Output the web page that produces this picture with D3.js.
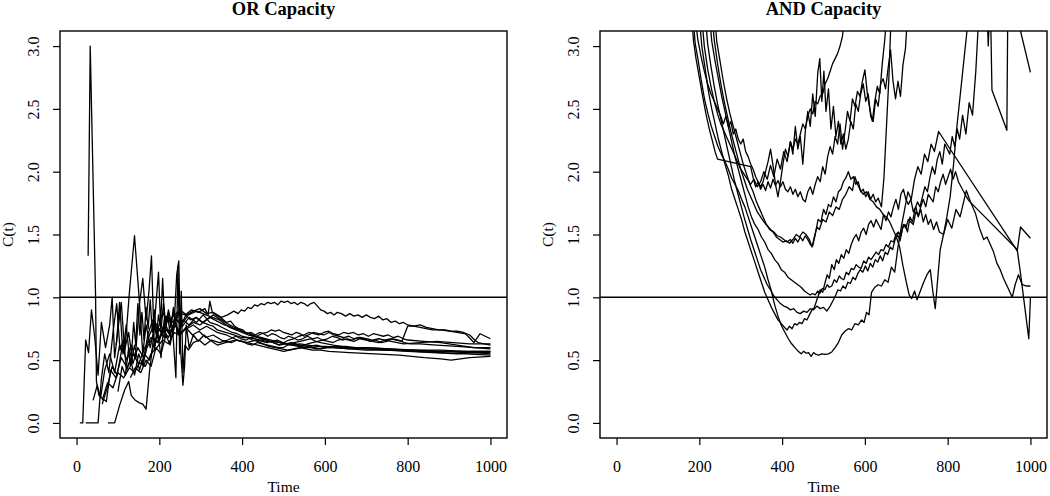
<!DOCTYPE html>
<html>
<head>
<meta charset="utf-8">
<script src="https://cdn.jsdelivr.net/npm/d3@7"></script>
<style>
  body { margin: 0; background: #fff; }
  svg { display: block; font-family: "Liberation Serif", "Times New Roman", serif; }
</style>
</head>
<body>
<svg id="capacityVis" width="1050" height="496"></svg>
<script>
const timeTicks = [0, 200, 400, 600, 800, 1000];
const capacityTicks = [0, 0.5, 1, 1.5, 2, 2.5, 3];
const timeRange = [0, 1000];
const capacityRange = [0, 3];
const panelTitles = ["OR Capacity", "AND Capacity"];
const referenceLevel = 1;

// OR capacity curves, [time, C(t)]
const or1 = [[28,1.33],[33,3.0],[46,1.0],[48,0.33],[54,0.22],[64,0.19],[72,0.17],[82,0.42],[95,0.36],[108,0.52],[122,0.44],[136,0.55],[150,0.47],[165,0.60],[180,0.68],[195,0.64],[210,0.76],[225,0.72],[240,0.82],[255,0.79],[270,0.86],[290,0.89],[305,0.87],[320,0.85],[345,0.82],[358,0.79],[370,0.76],[385,0.74],[400,0.72],[415,0.70],[430,0.69],[445,0.67],[460,0.66],[475,0.64],[490,0.62],[505,0.63],[520,0.64],[540,0.62],[560,0.61],[580,0.62],[600,0.60],[625,0.61],[650,0.61],[675,0.60],[700,0.59],[760,0.58],[820,0.58],[880,0.57],[940,0.56],[1000,0.56]];
const or2 = [[8,0],[15,0],[22,0.66],[29,0.56],[36,0.90],[44,0.68],[52,0.38],[60,0.80],[70,0.60],[80,0.78],[86,1.0],[92,0.52],[100,0.74],[108,0.96],[116,0.58],[126,0.72],[136,0.47],[148,0.60],[162,0.52],[176,0.70],[190,0.80],[204,0.72],[218,0.85],[232,0.80],[246,0.88],[262,0.86],[278,0.90],[294,0.88],[310,0.91],[318,0.86],[322,0.97],[328,0.88],[342,0.85],[352,0.83],[362,0.80],[372,0.81],[382,0.77],[392,0.75],[402,0.74],[412,0.71],[422,0.72],[432,0.70],[442,0.72],[452,0.71],[462,0.69],[472,0.71],[482,0.70],[492,0.68],[502,0.67],[512,0.69],[522,0.68],[534,0.66],[546,0.67],[558,0.69],[570,0.67],[582,0.68],[594,0.66],[606,0.67],[618,0.69],[630,0.68],[642,0.66],[654,0.67],[666,0.66],[680,0.68],[694,0.67],[708,0.65],[722,0.66],[736,0.64],[750,0.65],[764,0.67],[778,0.66],[792,0.64],[806,0.63],[830,0.63],[870,0.62],[920,0.61],[960,0.60],[1000,0.60]];
const or3 = [[22,0],[52,0],[60,0.35],[68,0.55],[78,0.40],[88,0.72],[97,0.95],[105,0.58],[113,0.66],[121,0.42],[130,0.50],[140,0.38],[150,0.55],[160,0.46],[170,0.60],[184,0.68],[198,0.64],[212,0.76],[226,0.70],[240,0.83],[256,0.77],[272,0.84],[290,0.80],[306,0.86],[322,0.80],[340,0.78],[352,0.76],[364,0.74],[376,0.72],[388,0.71],[400,0.69],[412,0.68],[425,0.66],[437,0.65],[450,0.63],[462,0.62],[475,0.61],[488,0.60],[500,0.60],[510,0.62],[520,0.63],[532,0.62],[545,0.61],[558,0.63],[570,0.64],[582,0.65],[595,0.66],[608,0.65],[620,0.64],[632,0.66],[645,0.67],[658,0.66],[670,0.65],[685,0.67],[700,0.66],[715,0.65],[730,0.64],[745,0.66],[760,0.65],[775,0.64],[790,0.63],[830,0.64],[870,0.65],[910,0.64],[950,0.63],[1000,0.63]];
const or4 = [[40,0.18],[50,0.30],[58,0.20],[68,0.42],[80,0.55],[92,0.40],[104,0.62],[116,0.55],[128,1.05],[140,1.49],[150,1.05],[160,0.55],[168,0.78],[178,0.60],[188,0.76],[198,0.66],[210,0.74],[222,0.68],[236,0.80],[250,0.72],[266,0.75],[282,0.78],[298,0.74],[314,0.77],[330,0.74],[340,0.72],[350,0.71],[362,0.70],[375,0.68],[388,0.66],[400,0.65],[412,0.64],[425,0.63],[438,0.62],[450,0.61],[462,0.60],[475,0.59],[488,0.58],[500,0.57],[515,0.58],[530,0.59],[545,0.60],[560,0.61],[575,0.60],[590,0.59],[605,0.60],[620,0.60],[660,0.59],[700,0.58],[750,0.58],[800,0.57],[860,0.56],[920,0.55],[960,0.56],[1000,0.55]];
const or5 = [[62,0.15],[74,0.28],[86,0.45],[98,0.38],[110,0.60],[122,0.50],[132,0.62],[142,0.52],[152,0.95],[160,1.15],[168,0.82],[175,1.05],[181,1.33],[188,0.58],[196,0.74],[204,0.52],[212,0.82],[222,0.72],[234,0.88],[246,0.70],[258,0.82],[272,0.78],[288,0.84],[304,0.80],[322,0.84],[345,0.80],[357,0.78],[369,0.77],[381,0.75],[393,0.74],[405,0.72],[417,0.71],[429,0.69],[441,0.68],[453,0.67],[465,0.65],[477,0.64],[489,0.62],[501,0.64],[513,0.66],[525,0.67],[537,0.69],[549,0.70],[561,0.72],[573,0.71],[585,0.70],[597,0.72],[609,0.73],[621,0.71],[633,0.70],[645,0.72],[657,0.71],[669,0.72],[681,0.70],[693,0.71],[705,0.69],[717,0.71],[729,0.70],[741,0.69],[753,0.70],[765,0.68],[777,0.69],[790,0.67],[800,0.66],[840,0.65],[880,0.64],[920,0.62],[960,0.60],[1000,0.59]];
const or6 = [[76,0],[92,0],[104,0.14],[116,0.26],[126,0.33],[132,0.22],[142,0.18],[152,0.16],[160,0.15],[168,0.11],[176,0.40],[184,0.62],[192,0.95],[198,1.20],[203,0.78],[208,1.15],[214,0.70],[220,0.86],[228,0.66],[238,0.78],[250,0.70],[264,0.76],[280,0.70],[296,0.73],[312,0.68],[330,0.70],[350,0.66],[362,0.65],[375,0.64],[388,0.66],[400,0.65],[412,0.63],[425,0.62],[437,0.64],[450,0.63],[465,0.61],[480,0.60],[495,0.59],[510,0.58],[525,0.59],[540,0.60],[555,0.59],[570,0.58],[590,0.58],[610,0.57],[660,0.56],[720,0.55],[780,0.54],[840,0.52],[880,0.51],[905,0.50],[950,0.52],[1000,0.53]];
const or7 = [[130,0.36],[142,0.44],[155,0.40],[168,0.50],[180,0.45],[192,0.60],[204,0.55],[216,0.70],[226,0.62],[236,0.80],[242,1.18],[247,1.29],[251,0.60],[257,0.30],[261,0.45],[265,0.78],[272,0.60],[282,0.70],[294,0.65],[308,0.70],[322,0.66],[340,0.62],[350,0.63],[360,0.64],[372,0.65],[385,0.66],[398,0.65],[410,0.64],[422,0.65],[435,0.66],[448,0.65],[460,0.64],[472,0.65],[485,0.66],[498,0.64],[510,0.63],[525,0.64],[540,0.65],[552,0.66],[565,0.67],[578,0.65],[590,0.64],[605,0.63],[620,0.62],[640,0.61],[660,0.60],[700,0.59],[760,0.58],[820,0.57],[880,0.56],[940,0.55],[1000,0.54]];
const or8 = [[96,0.62],[104,0.96],[112,0.55],[120,0.78],[130,0.45],[140,0.62],[152,0.42],[164,0.55],[176,0.50],[188,0.64],[200,0.75],[212,0.68],[222,0.90],[232,0.75],[240,0.36],[245,1.25],[249,0.55],[253,1.05],[257,0.40],[262,0.62],[270,0.58],[282,0.64],[296,0.66],[310,0.62],[326,0.66],[345,0.64],[365,0.66],[385,0.69],[397,0.67],[410,0.66],[422,0.68],[435,0.69],[447,0.71],[460,0.72],[470,0.74],[480,0.73],[490,0.74],[500,0.72],[510,0.71],[520,0.70],[530,0.72],[540,0.71],[550,0.69],[560,0.70],[572,0.72],[585,0.71],[597,0.70],[610,0.72],[622,0.70],[634,0.69],[646,0.68],[658,0.69],[670,0.67],[685,0.68],[700,0.67],[715,0.66],[730,0.67],[745,0.66],[760,0.67],[772,0.66],[786,0.65],[800,0.77],[815,0.77],[830,0.76],[845,0.75],[860,0.74],[880,0.74],[900,0.73],[920,0.72],[940,0.71],[960,0.64],[975,0.71],[1000,0.67]];
const or9 = [[160,0.45],[172,0.70],[184,0.82],[196,0.74],[208,0.88],[222,0.80],[236,0.86],[250,0.90],[266,0.86],[282,0.89],[298,0.91],[314,0.87],[330,0.88],[350,0.84],[365,0.86],[380,0.89],[390,0.87],[398,0.90],[406,0.89],[414,0.92],[422,0.91],[430,0.94],[438,0.93],[446,0.95],[454,0.94],[462,0.96],[470,0.95],[478,0.96],[486,0.94],[494,0.97],[502,0.96],[510,0.97],[518,0.95],[526,0.96],[534,0.94],[542,0.96],[550,0.95],[558,0.93],[566,0.95],[574,0.96],[582,0.93],[590,0.90],[598,0.89],[606,0.87],[614,0.88],[622,0.86],[630,0.88],[640,0.87],[650,0.85],[660,0.87],[670,0.85],[680,0.86],[690,0.84],[700,0.86],[710,0.84],[720,0.83],[730,0.85],[740,0.82],[750,0.83],[760,0.80],[770,0.81],[780,0.79],[790,0.80],[800,0.78],[815,0.77],[830,0.78],[845,0.76],[860,0.75],[875,0.74],[890,0.74],[905,0.73],[920,0.73],[935,0.72],[950,0.70],[962,0.66],[970,0.64],[985,0.63],[1000,0.62]];
const or10 = [[62,0.18],[75,0.32],[88,0.28],[100,0.40],[114,0.36],[128,0.44],[140,0.40],[152,0.48],[166,0.45],[180,0.55],[194,0.60],[208,0.66],[222,0.63],[236,0.72],[250,0.70],[266,0.76],[282,0.80],[298,0.78],[314,0.82],[330,0.86],[340,0.84],[350,0.82],[360,0.80],[370,0.78],[382,0.76],[395,0.74],[408,0.72],[420,0.71],[432,0.69],[445,0.68],[458,0.67],[470,0.66],[482,0.65],[495,0.64],[508,0.63],[520,0.62],[535,0.61],[550,0.60],[565,0.60],[580,0.59],[600,0.60],[620,0.60],[660,0.59],[700,0.60],[750,0.59],[800,0.58],[860,0.57],[920,0.57],[1000,0.57]];
const or11 = [[100,0.25],[110,0.45],[118,0.38],[126,0.60],[132,0.52],[138,0.80],[143,0.62],[148,0.95],[153,0.70],[158,0.88],[163,0.66],[168,0.92],[173,0.75],[178,0.98],[183,0.72],[188,0.90],[193,0.68],[198,0.86],[204,0.74],[210,0.95],[216,0.78],[222,0.88],[228,0.76],[234,0.92],[240,0.82],[248,0.88],[256,0.80],[264,0.86],[275,0.82],[290,0.84],[305,0.80],[320,0.78],[330,0.77],[340,0.74],[350,0.73],[360,0.72],[370,0.71],[380,0.70],[390,0.69],[400,0.68],[415,0.68],[430,0.67],[445,0.66],[460,0.65],[475,0.65],[490,0.64],[505,0.63],[520,0.62],[540,0.63],[560,0.62],[580,0.61],[600,0.61],[650,0.60],[700,0.60],[760,0.59],[820,0.58],[880,0.58],[940,0.57],[1000,0.57]];

// AND capacity curves, [time, C(t)]
const and1 = [[183,3.3],[190,3.02],[197,2.89],[205,2.72],[213,2.57],[221,2.46],[229,2.36],[237,2.28],[245,2.20],[253,2.14],[261,2.09],[270,2.02],[278,1.95],[286,1.90],[294,1.85],[302,1.78],[310,1.72],[318,1.64],[326,1.56],[334,1.48],[342,1.40],[350,1.32],[358,1.24],[366,1.14],[374,1.05],[382,0.94],[391,0.84],[399,0.77],[407,0.72],[415,0.67],[423,0.63],[431,0.60],[439,0.57],[446,0.55],[452,0.57],[458,0.555],[464,0.56],[470,0.53],[476,0.56],[482,0.545],[488,0.54],[496,0.55],[504,0.545],[512,0.55],[520,0.565],[528,0.60],[536,0.64],[544,0.70],[552,0.73],[560,0.75],[568,0.74],[576,0.79],[584,0.78],[592,0.82],[598,0.80],[604,0.88],[610,0.86],[616,1.04],[624,1.08],[632,1.10],[640,1.09],[648,1.14],[656,1.12],[664,1.24],[672,1.20],[680,1.40],[688,1.56],[696,1.70],[704,1.84],[712,1.78],[720,1.94],[728,2.04],[736,1.98],[744,2.14],[752,2.08],[760,2.22],[768,2.16],[778,2.32],[968,1.37],[976,1.56],[1000,1.47]];
const and2 = [[198,3.3],[206,3.0],[214,2.82],[222,2.64],[230,2.50],[238,2.38],[246,2.26],[254,2.16],[262,2.06],[270,1.97],[278,1.86],[286,1.78],[294,1.70],[302,1.62],[310,1.52],[318,1.44],[326,1.36],[334,1.28],[342,1.20],[350,1.12],[358,1.04],[366,0.98],[374,0.92],[382,0.87],[390,0.82],[398,0.79],[406,0.76],[412,0.74],[418,0.77],[424,0.75],[430,0.79],[436,0.78],[442,0.80],[448,0.79],[454,0.83],[460,0.82],[466,0.86],[472,0.90],[478,0.92],[486,1.00],[492,1.06],[498,1.04],[504,1.12],[509,1.18],[514,1.15],[520,1.26],[526,1.22],[531,1.30],[537,1.27],[543,1.34],[549,1.31],[555,1.38],[561,1.35],[567,1.42],[573,1.47],[579,1.50],[585,1.45],[591,1.52],[597,1.55],[603,1.50],[609,1.58],[615,1.61],[621,1.56],[627,1.62],[633,1.58],[639,1.54],[645,1.66],[651,1.61],[657,1.68],[663,1.64],[669,1.72],[675,1.78],[681,1.70],[687,1.82],[693,1.86],[699,1.78],[705,1.74],[711,1.78],[717,1.68],[723,1.72],[729,1.64],[735,1.70],[741,1.60],[747,1.66],[753,1.58],[759,1.62],[766,1.54],[773,1.60],[780,1.52],[790,1.50],[800,1.62],[810,1.55],[820,1.70],[830,1.64],[845,1.85],[855,1.76],[867,1.67],[877,1.55],[887,1.46],[895,1.48],[903,1.42],[911,1.36],[919,1.27],[927,1.22],[935,1.15],[945,1.08],[956,1.0],[963,1.10],[971,1.18],[980,1.10],[991,1.09],[1000,1.09]];
const and3 = [[213,3.3],[220,3.02],[228,2.84],[236,2.68],[244,2.54],[252,2.42],[260,2.30],[268,2.18],[276,2.06],[284,1.94],[292,1.84],[300,1.74],[308,1.64],[316,1.55],[324,1.46],[332,1.38],[340,1.30],[348,1.22],[356,1.16],[364,1.10],[372,1.06],[380,1.01],[388,0.98],[396,0.95],[404,0.93],[412,0.92],[420,0.90],[428,0.91],[436,0.88],[444,0.87],[452,0.89],[460,0.88],[468,0.91],[476,0.90],[484,0.93],[492,0.91],[500,0.92],[508,0.89],[516,0.93],[524,0.98],[530,1.02],[535,1.06],[541,1.05],[547,1.09],[553,1.07],[559,1.12],[565,1.11],[571,1.16],[577,1.14],[583,1.19],[589,1.22],[595,1.20],[601,1.25],[607,1.21],[613,1.27],[619,1.24],[625,1.30],[631,1.28],[637,1.33],[643,1.29],[649,1.36],[655,1.34],[661,1.40],[667,1.38],[673,1.46],[679,1.50],[685,1.45],[691,1.55],[697,1.58],[703,1.52],[709,1.64],[715,1.60],[721,1.70],[727,1.76],[733,1.72],[739,1.80],[745,1.88],[751,1.84],[757,1.95],[763,2.04],[769,1.98],[775,2.10],[781,2.16],[787,2.06],[793,2.22],[799,2.18],[805,2.14],[811,2.28],[817,2.20],[823,2.34],[829,2.26],[836,2.45],[844,2.30],[852,2.55],[860,2.45],[868,2.80],[876,3.3],[893,3.5],[898,3.0],[903,3.4],[907,2.65],[943,2.33],[946,3.6],[970,3.6],[976,3.12],[1000,2.79]];
const and4 = [[223,3.3],[230,3.04],[238,2.88],[246,2.74],[254,2.60],[262,2.48],[270,2.36],[278,2.24],[286,2.12],[294,2.02],[302,1.92],[310,1.82],[318,1.72],[326,1.64],[334,1.58],[342,1.54],[350,1.48],[358,1.44],[366,1.38],[374,1.35],[382,1.30],[390,1.27],[398,1.22],[406,1.20],[414,1.16],[422,1.14],[430,1.12],[438,1.10],[446,1.08],[454,1.05],[462,1.03],[468,1.02],[474,1.03],[480,1.02],[486,1.05],[491,1.03],[497,1.07],[503,1.06],[509,1.10],[514,1.08],[520,1.09],[526,1.14],[532,1.12],[538,1.17],[543,1.15],[549,1.14],[555,1.20],[561,1.18],[567,1.23],[573,1.22],[579,1.26],[585,1.24],[591,1.23],[597,1.29],[603,1.27],[609,1.32],[615,1.30],[621,1.33],[627,1.36],[633,1.34],[639,1.38],[645,1.37],[651,1.42],[657,1.40],[663,1.45],[669,1.44],[675,1.50],[681,1.52],[687,1.49],[693,1.58],[699,1.55],[705,1.62],[711,1.60],[717,1.58],[723,1.68],[729,1.65],[735,1.72],[741,1.78],[747,1.72],[753,1.82],[759,1.79],[765,1.76],[771,1.88],[777,1.84],[783,1.92],[789,1.98],[795,1.90],[801,1.96],[807,2.02],[813,1.94],[819,2.0],[826,1.92],[834,1.87],[842,1.82],[851,1.77],[968,1.38],[976,1.19],[996,0.67],[1000,1.0]];
const and5 = [[229,3.3],[236,3.05],[244,2.86],[252,2.70],[260,2.56],[268,2.44],[276,2.32],[284,2.22],[292,2.12],[300,2.02],[308,1.94],[316,1.86],[324,1.80],[332,1.74],[340,1.68],[348,1.64],[356,1.60],[364,1.57],[372,1.54],[380,1.52],[388,1.49],[396,1.48],[404,1.46],[412,1.44],[420,1.46],[426,1.43],[432,1.47],[438,1.44],[444,1.48],[450,1.45],[456,1.49],[462,1.46],[468,1.42],[474,1.41],[480,1.50],[487,1.62],[494,1.60],[500,1.70],[506,1.66],[512,1.74],[518,1.72],[524,1.80],[530,1.76],[536,1.84],[542,1.86],[548,1.92],[554,1.95],[560,2.00],[566,1.94],[572,1.96],[578,1.90],[584,1.92],[590,1.84],[596,1.86],[602,1.80],[608,1.84],[614,1.78],[620,1.82],[626,1.76],[632,1.79],[640,1.72],[646,1.95],[652,2.35],[658,2.75],[664,3.3]];
const and6 = [[236,3.3],[242,3.04],[250,2.88],[258,2.72],[266,2.58],[274,2.46],[282,2.36],[290,2.26],[298,2.16],[306,2.06],[314,1.98],[322,1.90],[330,1.84],[338,1.76],[346,1.70],[354,1.64],[362,1.58],[370,1.54],[378,1.52],[386,1.48],[394,1.46],[402,1.44],[410,1.45],[418,1.43],[426,1.46],[434,1.50],[442,1.48],[450,1.52],[458,1.50],[466,1.46],[472,1.40],[478,1.48],[484,1.56],[490,1.54],[498,1.62],[506,1.60],[514,1.68],[522,1.65],[530,1.72],[538,1.70],[546,1.78],[554,1.82],[562,1.88],[570,1.85],[576,1.96],[582,1.90],[588,1.86],[596,1.82],[604,1.84],[612,1.78],[620,1.76],[628,1.72],[636,1.70],[644,1.66],[652,1.64],[660,1.60],[668,1.54],[676,1.48],[684,1.40],[692,1.25],[700,1.12],[707,1.02],[713,0.99],[720,1.05],[726,0.98],[734,1.05],[742,1.12],[750,1.18],[758,1.22],[764,1.05],[770,0.91],[776,1.15],[782,1.38],[790,1.50],[798,1.64],[806,1.80],[814,2.05],[822,2.35],[830,2.60],[838,2.85],[846,3.1],[852,3.3]];
const and7 = [[188,3.3],[196,3.06],[204,2.92],[212,2.80],[220,2.70],[228,2.62],[236,2.56],[244,2.50],[252,2.44],[258,2.38],[264,2.44],[270,2.36],[276,2.40],[282,2.30],[288,2.34],[294,2.26],[300,2.22],[306,2.26],[312,2.16],[318,2.12],[324,2.06],[330,2.02],[336,1.96],[342,1.92],[348,1.88],[354,1.92],[360,2.00],[366,2.08],[372,2.18],[378,2.05],[384,1.90],[390,1.80],[396,1.92],[402,2.06],[408,2.18],[414,2.12],[420,2.24],[426,2.18],[432,2.26],[438,2.22],[444,2.30],[450,2.38],[456,2.34],[462,2.44],[468,2.50],[474,2.46],[480,2.56],[486,2.54],[492,2.60],[498,2.62],[504,2.70],[510,2.74],[516,2.80],[522,2.86],[528,2.90],[534,2.94],[540,3.0],[546,3.08],[552,3.3]];
const and8 = [[180,3.3],[186,3.04],[192,2.90],[200,2.75],[208,2.60],[216,2.46],[224,2.34],[232,2.24],[238,2.16],[244,2.10],[324,2.04],[330,1.95],[336,1.88],[342,1.92],[348,1.86],[354,1.90],[360,1.85],[366,1.92],[372,1.87],[378,1.94],[384,1.89],[390,1.93],[396,1.88],[402,1.92],[408,1.86],[414,1.84],[420,1.88],[426,1.82],[432,1.86],[438,1.80],[444,1.84],[450,1.78],[456,1.76],[462,1.84],[468,1.88],[474,1.82],[480,1.90],[486,1.96],[492,1.92],[498,2.04],[504,1.98],[510,2.12],[516,2.20],[522,2.14],[528,2.28],[534,2.22],[540,2.38],[546,2.18],[552,2.32],[558,2.48],[564,2.40],[570,2.58],[576,2.52],[582,2.64],[588,2.60],[594,2.72],[600,2.81],[606,2.62],[612,2.50],[618,2.40],[624,2.56],[630,2.68],[636,2.62],[642,2.86],[648,3.05],[654,3.3]];
const and9 = [[204,3.3],[212,3.0],[220,2.82],[228,2.68],[236,2.56],[244,2.46],[252,2.38],[260,2.32],[268,2.26],[276,2.20],[284,2.14],[292,2.08],[300,2.02],[308,1.98],[316,1.94],[324,1.90],[332,1.94],[340,1.88],[348,1.92],[356,2.0],[364,1.94],[372,2.05],[380,1.96],[388,2.10],[396,2.02],[404,2.16],[412,2.08],[420,2.24],[426,2.14],[432,2.36],[438,2.18],[444,2.28],[450,2.06],[456,2.32],[462,2.48],[468,2.36],[474,2.62],[480,2.44],[486,2.78],[491,2.90],[496,2.56],[501,2.80],[506,2.48],[512,2.66],[518,2.34],[524,2.52],[530,2.28],[536,2.40],[542,2.22],[548,2.30],[554,2.18],[560,2.26],[566,2.40],[572,2.34],[578,2.54],[584,2.48],[590,2.62],[596,2.70],[602,2.56],[608,2.62],[614,2.44],[620,2.40],[626,2.58],[632,2.52],[638,2.70],[644,2.74],[650,2.66],[656,2.82],[662,2.97],[668,2.72],[674,2.58],[680,2.72],[686,2.60],[692,2.85],[698,2.98],[704,3.3]];

const orCurves = [or1, or2, or3, or4, or5, or6, or7, or8, or9, or10, or11];
const andCurves = [and1, and2, and3, and4, and5, and6, and7, and8, and9];

const svg = d3.select('svg#capacityVis');
svg.append('rect').attr('width', 1050).attr('height', 496).attr('fill', '#fff');

const panels = [
  { left: 60, title: panelTitles[0], curves: orCurves, id: 'or' },
  { left: 600, title: panelTitles[1], curves: andCurves, id: 'and' }
];
const boxWidth = 447, boxTop = 31, boxBottom = 438;
const labelFont = '"Liberation Serif", "Times New Roman", serif';

panels.forEach(p => {
  // R pads each axis range by 4% on both sides
  const pad = 0.04;
  const xSpan = timeRange[1] - timeRange[0];
  const ySpan = capacityRange[1] - capacityRange[0];
  const xScale = d3.scaleLinear()
    .domain([timeRange[0] - pad * xSpan, timeRange[1] + pad * xSpan])
    .range([p.left, p.left + boxWidth]);
  const yScale = d3.scaleLinear()
    .domain([capacityRange[0] - pad * ySpan, capacityRange[1] + pad * ySpan])
    .range([boxBottom, boxTop]);

  const g = svg.append('g').attr('class', `panel-${p.id}`);

  g.append('clipPath')
    .attr('id', `clip-${p.id}`)
    .append('rect')
    .attr('x', p.left).attr('y', boxTop)
    .attr('width', boxWidth).attr('height', boxBottom - boxTop);

  const line = d3.line()
    .x(d => xScale(d[0]))
    .y(d => yScale(d[1]));

  g.append('g')
    .attr('clip-path', `url(#clip-${p.id})`)
    .selectAll('path')
    .data(p.curves)
    .enter()
    .append('path')
    .attr('d', line)
    .attr('fill', 'none')
    .attr('stroke', '#000')
    .attr('stroke-width', 1.3)
    .attr('stroke-linejoin', 'round');

  // horizontal reference at C(t) = 1
  g.append('line')
    .attr('x1', p.left).attr('x2', p.left + boxWidth)
    .attr('y1', yScale(referenceLevel)).attr('y2', yScale(referenceLevel))
    .attr('stroke', '#000')
    .attr('stroke-width', 1.6);

  const xAxis = g.append('g')
    .attr('transform', `translate(0, ${boxBottom})`)
    .call(d3.axisBottom(xScale).tickValues(timeTicks).tickSize(7).tickSizeOuter(0).tickFormat(d3.format('d')))
    .call(a => a.select('.domain').remove());
  xAxis.attr('font-family', labelFont).attr('font-size', 16);
  xAxis.selectAll('line').attr('stroke-width', 1.2);
  xAxis.selectAll('text')
    .attr('y', 34).attr('dy', null);

  const yAxis = g.append('g')
    .attr('transform', `translate(${p.left}, 0)`)
    .call(d3.axisLeft(yScale).tickValues(capacityTicks).tickSize(7).tickSizeOuter(0).tickFormat(d3.format('.1f')))
    .call(a => a.select('.domain').remove());
  yAxis.attr('font-family', labelFont).attr('font-size', 16);
  yAxis.selectAll('line').attr('stroke-width', 1.2);
  yAxis.selectAll('text')
    .attr('x', 0).attr('y', -21).attr('dy', null)
    .attr('transform', 'rotate(-90)')
    .attr('text-anchor', 'middle');

  g.append('rect')
    .attr('x', p.left).attr('y', boxTop)
    .attr('width', boxWidth).attr('height', boxBottom - boxTop)
    .attr('fill', 'none')
    .attr('stroke', '#000')
    .attr('stroke-width', 1.4);

  g.append('text')
    .text(p.title)
    .attr('x', p.left + boxWidth / 2).attr('y', 15)
    .attr('text-anchor', 'middle')
    .style('font-weight', 'bold')
    .style('font-size', '18.5px');

  g.append('text')
    .text('Time')
    .attr('x', p.left + boxWidth / 2).attr('y', 492)
    .attr('text-anchor', 'middle')
    .style('font-size', '15.5px');

  g.append('text')
    .text('C(t)')
    .attr('transform', `translate(${p.left - 47}, ${(boxTop + boxBottom) / 2}) rotate(-90)`)
    .attr('text-anchor', 'middle')
    .style('font-size', '15.5px');
});
</script>
</body>
</html>
